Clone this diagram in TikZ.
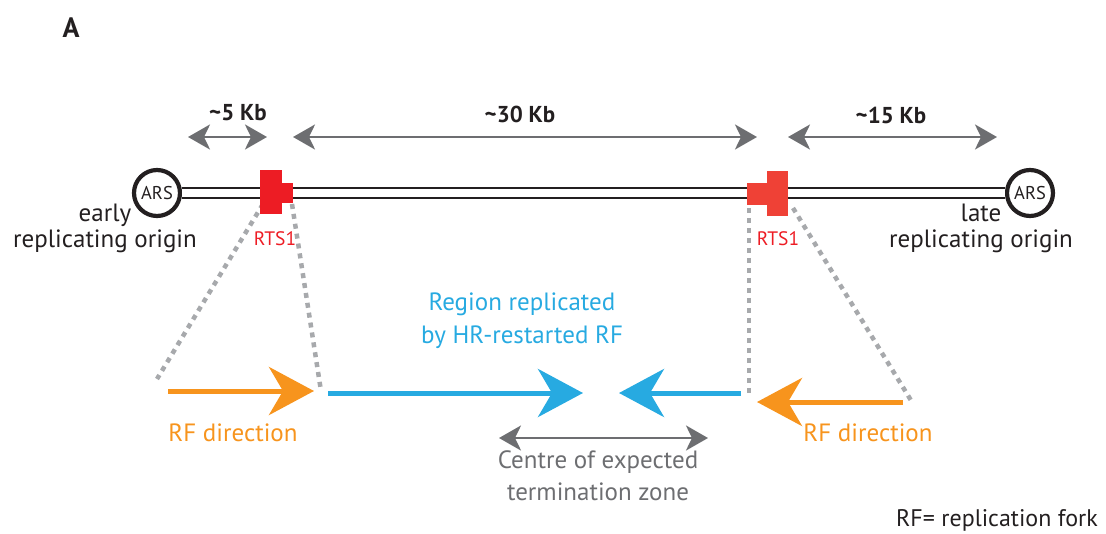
\documentclass[tikz,border=0pt]{standalone}
\usepackage{fontspec}
\setmainfont{PT Sans}
\usetikzlibrary{positioning, arrows.meta}
\definecolor{dimgrey}{RGB}{109,110,113}
\definecolor{dotgrey}{RGB}{167,169,172}
\definecolor{forkorange}{RGB}{247,148,29}
\definecolor{hrblue}{RGB}{39,170,225}
\definecolor{rtsred}{RGB}{237,28,36}
\definecolor{rtsredb}{RGB}{239,65,54}
\definecolor{ink}{RGB}{35,31,32}
\newcommand{\bigtext}{\fontsize{25}{32}\selectfont}
\newcommand{\kbtext}{\fontsize{23}{27}\selectfont\bfseries}
\tikzset{
  dimarrow/.style={draw=dimgrey, line width=2.5pt,
    {Stealth[length=22pt,width=25pt,inset=6pt]}-{Stealth[length=22pt,width=25pt,inset=6pt]}},
  forkarrow/.style={line width=5pt, -{Stealth[length=45pt,width=48pt,inset=14pt]}},
  guide/.style={draw=dotgrey, line width=4.5pt, dash pattern=on 5pt off 5pt},
  ars/.style={circle, draw=ink, line width=4.2pt, minimum size=46pt, inner sep=0pt,
    font=\fontsize{18.5}{20}\selectfont, text=ink},
  rtsbox/.style={fill=#1, inner sep=0pt},
  label/.style={align=center, inner sep=0pt, font=\bigtext}
}
\begin{document}
\begin{tikzpicture}[x=1pt, y=-1pt]
  \useasboundingbox (0,0) rectangle (1106,533);

  \node [font=\fontsize{28}{30}\selectfont\bfseries, text=ink] (panel) at (71,28) {A};

  % chromosome between the two origins
  \node [ars] (arsL) at (157,193) {ARS};
  \node [ars] (arsR) at (1030,193) {ARS};
  \draw [ink, double=white, double distance=8pt, line width=2pt] (arsL) -- (arsR);

  \node [label, text=ink] (early) at (105,228) {early\\[-6pt]replicating origin};
  \node [label, text=ink] (late) at (981,228) {late\\[-6pt]replicating origin};

  % distances along the chromosome
  \coordinate (d5a) at (188,137);
  \coordinate (d5b) at (267,137);
  \coordinate (d30a) at (293,137);
  \coordinate (d30b) at (757,137);
  \coordinate (d15a) at (788,137);
  \coordinate (d15b) at (997,137);
  \draw [dimarrow] (d5a) -- (d5b);
  \draw [dimarrow] (d30a) -- (d30b);
  \draw [dimarrow] (d15a) -- (d15b);
  \node [font=\kbtext, text=ink] (kb5) at (238,113) {\char`~5 Kb};
  \node [font=\kbtext, text=ink] (kb30) at (520,114) {\char`~30 Kb};
  \node [font=\kbtext, text=ink] (kb15) at (891,115) {\char`~15 Kb};

  % zoom guides
  \coordinate (gL1) at (263,204);
  \coordinate (gL2) at (157,379);
  \coordinate (gL3) at (292,204);
  \coordinate (gL4) at (321,391);
  \coordinate (gR1) at (749,208);
  \coordinate (gR2) at (749,393);
  \coordinate (gR3) at (793,208);
  \coordinate (gR4) at (912,402);
  \draw [guide] (gL1) -- (gL2);
  \draw [guide] (gL3) -- (gL4);
  \draw [guide] (gR1) -- (gR2);
  \draw [guide] (gR3) -- (gR4);

  % RTS1 barriers
  \node [rtsbox=rtsred, minimum width=22pt, minimum height=44pt] (rtsL) at (271,192) {};
  \node [rtsbox=rtsred, minimum width=11pt, minimum height=20pt, anchor=west] (rtsLx) at ([xshift=-0.5pt]rtsL.east |- 0,193) {};
  \node [rtsbox=rtsredb, minimum width=21pt, minimum height=45pt] (rtsR) at (777.5,193.5) {};
  \node [rtsbox=rtsredb, minimum width=20.5pt, minimum height=22pt, anchor=east] (rtsRx) at ([xshift=0.5pt]rtsR.west |- 0,194) {};
  \node [font=\fontsize{19.5}{22}\selectfont, text=rtsred] (rtsLlab) at (275,239) {RTS1};
  \node [font=\fontsize{19.5}{22}\selectfont, text=rtsred] (rtsRlab) at (778,239) {RTS1};

  % forks
  \coordinate (oL1) at (168,391);
  \coordinate (oL2) at (314,391);
  \coordinate (bL1) at (328,393);
  \coordinate (bL2) at (583,393);
  \coordinate (bR1) at (741,393);
  \coordinate (bR2) at (619,393);
  \coordinate (oR1) at (903,402);
  \coordinate (oR2) at (757,402);
  \draw [forkarrow, forkorange] (oL1) -- (oL2);
  \draw [forkarrow, hrblue] (bL1) -- (bL2);
  \draw [forkarrow, hrblue] (bR1) -- (bR2);
  \draw [forkarrow, forkorange] (oR1) -- (oR2);

  \node [label, text=forkorange] (dirL) at (233,433) {RF direction};
  \node [label, text=forkorange] (dirR) at (868,433) {RF direction};
  \node [label, text=hrblue] (region) at (522,321) {Region replicated\\[1pt]by HR-restarted RF};

  % expected termination zone
  \coordinate (tz1) at (499,438);
  \coordinate (tz2) at (708,438);
  \draw [dimarrow] (tz1) -- (tz2);
  \node [label, text=dimgrey] (centre) at (598,476) {Centre of expected\\termination zone};

  \node [font=\fontsize{24}{28}\selectfont, text=ink] (key) at (997,520) {RF= replication fork};
\end{tikzpicture}
\end{document}
